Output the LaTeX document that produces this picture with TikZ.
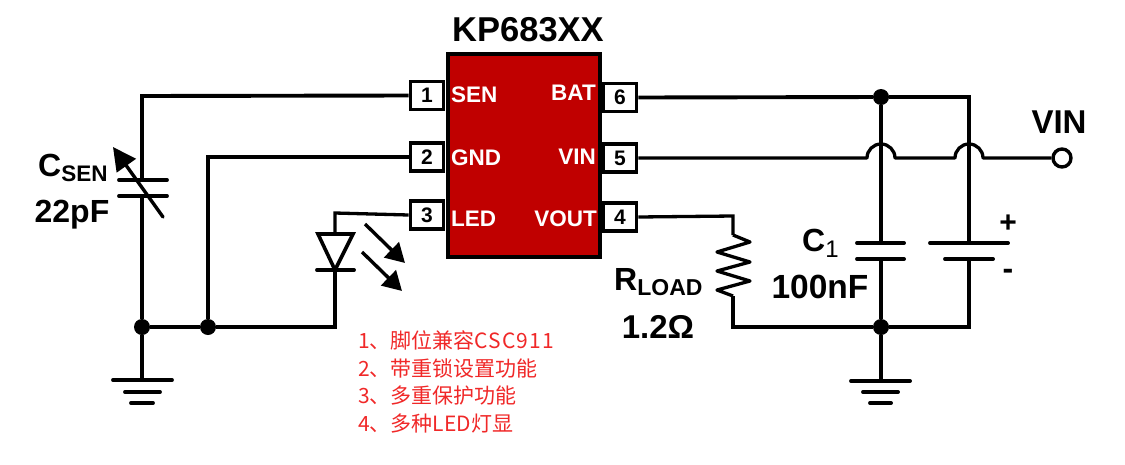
\documentclass[tikz,border=0pt]{standalone}
\usepackage{fontspec}
\setmainfont{Liberation Sans}
\newfontfamily\cjk{Noto Sans CJK SC}
\usetikzlibrary{arrows.meta,calc}
\definecolor{icred}{RGB}{192,0,0}
\definecolor{notered}{RGB}{240,40,40}
\newcommand{\fs}[1]{\fontsize{#1}{#1}\selectfont}
\tikzset{
  x=1pt,y=-1pt,
  wire/.style={line width=3.9pt,black,line join=miter},
  thinwire/.style={line width=3.3pt,black,line join=miter},
  plate/.style={line width=3.9pt,line cap=round},
  pinbox/.style={draw=black,line width=3.9pt,fill=white,minimum width=33pt,minimum height=28pt,inner sep=0pt,font=\bfseries\fs{21}},
  pinlabel/.style={text=white,font=\bfseries\fs{22.5},inner sep=0pt},
  value/.style={font=\bfseries\fs{32},inner sep=0pt},
  dot/.style={circle,fill=black,minimum size=16pt,inner sep=0pt},
  note/.style={anchor=west,text=notered,font=\cjk\fs{21},inner sep=0pt},
  bigarrow/.style={line width=3.4pt,-{Triangle[length=23pt,width=23pt]}},
  smallarrow/.style={line width=3.4pt,-{Triangle[length=19pt,width=21pt]}},
}
\begin{document}
\begin{tikzpicture}
\useasboundingbox (0,0) rectangle (1125,464);
% IC
\node[draw=black,line width=4pt,fill=icred,minimum width=152pt,minimum height=203pt,inner sep=0pt] (ic) at (524,155) {};
\node[font=\bfseries\fs{34.5},inner sep=0pt] (title) at (528,30) {KP683XX};
\node[pinbox] (p1) at (427,95.5) {1};
\node[pinbox] (p2) at (427,157) {2};
\node[pinbox] (p3) at (427,215) {3};
\node[pinbox] (p6) at (620,97.5) {6};
\node[pinbox] (p5) at (620,158) {5};
\node[pinbox] (p4) at (620,217) {4};
\node[pinlabel,anchor=west] (lsen) at (451,95) {SEN};
\node[pinlabel,anchor=west] (lgnd) at (451,157.5) {GND};
\node[pinlabel,anchor=west] (lled) at (451,219) {LED};
\node[pinlabel,anchor=east] (lbat) at (596,93) {BAT};
\node[pinlabel,anchor=east] (lvin) at (596,157) {VIN};
\node[pinlabel,anchor=east] (lvout) at (597,219) {VOUT};
% junctions and corners
\node[dot] (j1) at (142,327) {};
\node[dot] (j2) at (208,327) {};
\node[dot] (j3) at (881,97) {};
\node[dot] (j4) at (881,327) {};
\coordinate (c1) at (142,96);
\coordinate (c2) at (208,157);
\coordinate (c3) at (335,213);
\coordinate (c4) at (335,327);
\coordinate (capTopA) at (142,180);
\coordinate (capBotA) at (142,196);
\coordinate (g1) at (142,380);
\coordinate (g2) at (881,381);
\coordinate (ledTop) at (335,234);
\coordinate (ledBot) at (335,270);
% left wiring
\draw[wire] (p1.west) -- (c1) -- (capTopA);
\draw[wire] (capBotA) -- (j1) -- (g1);
\draw[wire] (p2.west) -- (c2) -- (j2);
\draw[wire] (j1) -- (j2) -- (c4) -- (ledBot);
\draw[thinwire] (p3.west) -- (c3) -- (ledTop);
% variable cap
\draw[plate] (119,180) -- (167,180);
\draw[plate] (119,196) -- (167,196);
\coordinate (arrS) at (163,217);
\coordinate (arrE) at (113,147);
\draw[bigarrow,line cap=round] (arrS) -- (arrE);
% ground left
\draw[plate] (113,380) -- (172,380);
\draw[plate] (125,392) -- (160,392);
\draw[plate] (131,403) -- (153,403);
% LED
\draw[line width=3.6pt,line join=miter] (318,234) -- (353,234) -- (335,270) -- cycle;
\draw[plate] (317,270) -- (354,270);
\coordinate (a1s) at (365,224);
\coordinate (a1e) at (405,263);
\coordinate (a2s) at (362,252);
\coordinate (a2e) at (402,291);
\draw[smallarrow] (a1s) -- (a1e);
\draw[smallarrow] (a2s) -- (a2e);
% right wiring
\coordinate (r1) at (969,97);
\coordinate (capTopB) at (881,243);
\coordinate (capBotB) at (881,259);
\coordinate (capTopC) at (969,243);
\coordinate (capBotC) at (969,259);
\coordinate (r2) at (969,327);
\coordinate (r3) at (733,327);
\coordinate (r4) at (733,216);
\coordinate (rTop) at (733,235);
\coordinate (rBot) at (733,296);
\draw[wire] (p6.east) -- (j3);
\draw[thinwire] (j3) -- (r1) -- (capTopC);
\draw[wire] (j3) -- (capTopB);
\draw[wire] (capBotB) -- (j4) -- (g2);
\draw[thinwire] (capBotC) -- (r2) -- (j4) -- (r3) -- (rBot);
\draw[thinwire,line join=round] (rTop) -- (750,242) -- (717,252) -- (750,262) -- (717,271) -- (750,281) -- (717,290) -- (rBot);
\draw[thinwire] (p4.east) -- (r4) -- (rTop);
% VIN with hops
\node[circle,draw=black,line width=3.4pt,fill=white,minimum size=18pt,inner sep=0pt] (vin) at (1062,158) {};
\coordinate (h1) at (867,158);
\coordinate (h2) at (895,158);
\coordinate (h3) at (955,158);
\coordinate (h4) at (983,158);
\draw[thinwire,line join=round] (p5.east) -- (h1) arc[start angle=180,end angle=0,radius=14pt] -- (h3) arc[start angle=180,end angle=0,radius=14pt] -- (vin.west);
% cap plates
\draw[plate] (857,243) -- (904,243);
\draw[plate] (857,259) -- (904,259);
\draw[plate] (930,243) -- (1008,243);
\draw[plate] (945,259) -- (993,259);
% ground right
\draw[plate] (851,381) -- (910,381);
\draw[plate] (863,392) -- (898,392);
\draw[plate] (870,403) -- (891,403);
% labels
\node[value,anchor=west] (csen) at (38,168) {C\raisebox{-5pt}{\fs{22.5}SEN}};
\node[value] (v22) at (72,215) {22pF};
\node[value,anchor=west] (c1l) at (802,243) {C\raisebox{-6pt}{\fs{24}\mdseries 1}};
\node[font=\bfseries\fs{33.5},inner sep=0pt] (v100) at (820,287) {100nF};
\node[value,anchor=west] (rl) at (614,282) {R\raisebox{-5pt}{\fs{23}LOAD}};
\node[font=\bfseries\fs{33},inner sep=0pt] (v12) at (658,327) {1.2Ω};
\node[font=\bfseries\fs{33},inner sep=0pt] (vinl) at (1059,122) {VIN};
\node[font=\bfseries\fs{30},inner sep=0pt] (plus) at (1008,224) {+};
\node[font=\bfseries\fs{32},inner sep=0pt] (minus) at (1008,274) {-};
% notes
\node[note] (n1) at (358,340) {1、脚位兼容{\addfontfeature{LetterSpace=5}CSC911}};
\node[note] (n2) at (358,368) {2、带重锁设置功能};
\node[note] (n3) at (358,396) {3、多重保护功能};
\node[note] (n4) at (358,424) {4、多种LED灯显};
\end{tikzpicture}
\end{document}
